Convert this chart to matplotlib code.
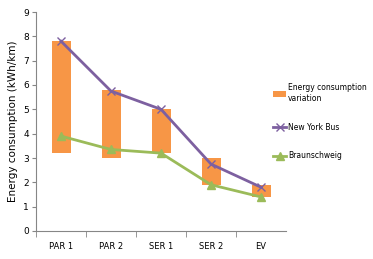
import matplotlib.pyplot as plt
import numpy as np

categories = ["PAR 1", "PAR 2", "SER 1", "SER 2", "EV"]
var_low = [3.2, 3.0, 3.2, 1.9, 1.4]
var_high = [7.8, 5.8, 5.0, 3.0, 1.9]
new_york = [7.8, 5.75, 5.0, 2.75, 1.8]
braunschweig = [3.9, 3.35, 3.2, 1.9, 1.4]

orange = "#F79646"
purple = "#7D60A0"
green = "#9BBB59"

fig = plt.figure(figsize=(3.73, 2.59), dpi=100)
ax = fig.add_axes([36 / 373, 28 / 259, 250 / 373, 219 / 259])

x = np.arange(len(categories))
heights = np.array(var_high) - np.array(var_low)
bars = ax.bar(x, heights, bottom=var_low, width=0.38, color=orange,
              label="Energy consumption\nvariation", zorder=2)
l1, = ax.plot(x, new_york, color=purple, lw=2, marker="x", ms=6, mew=1,
              label="New York Bus", zorder=3)
l2, = ax.plot(x, braunschweig, color=green, lw=2, marker="^", ms=6,
              label="Braunschweig", zorder=3)

ax.set_xlim(-0.5, 4.5)
ax.set_ylim(0, 9)
ax.set_yticks(range(10))
ax.set_xticks(x)
ax.set_xticklabels(categories)
ax.set_xticks(np.arange(-0.5, 4.0, 1.0), minor=True)
ax.tick_params(axis="x", which="major", length=0, labelsize=6, pad=8)
ax.tick_params(axis="x", which="minor", length=4, color="#868686")
ax.tick_params(axis="y", length=3, color="#868686", labelsize=6.5, pad=2)
for s in ["top", "right"]:
    ax.spines[s].set_visible(False)
for s in ["left", "bottom"]:
    ax.spines[s].set_color("#868686")
ax.set_ylabel("Energy consumption (kWh/km)", fontsize=7.5, labelpad=4)

fig.legend(handles=[bars, l1, l2], loc="upper left", bbox_to_anchor=(268 / 373, 1 - 78 / 259),
           frameon=False, fontsize=5.5, labelspacing=2.6, handlelength=1.7,
           handletextpad=0.2, borderpad=0.2)

fig.savefig("out.png", dpi=100)
